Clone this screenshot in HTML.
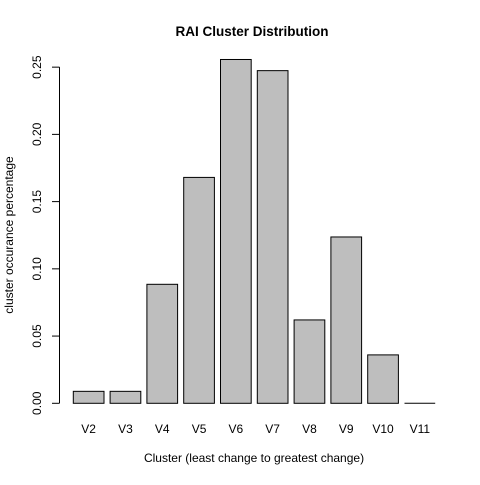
<!DOCTYPE html>
<html><head><meta charset="utf-8"><style>
body{margin:0;background:#fff}
svg text{font-family:"Liberation Sans",Arial,sans-serif;fill:#000}
</style></head><body>
<svg width="480" height="480" xmlns="http://www.w3.org/2000/svg">
<text x="252" y="36" text-anchor="middle" font-size="13.5" font-weight="bold">RAI Cluster Distribution</text>
<text x="254" y="462" text-anchor="middle" font-size="12">Cluster (least change to greatest change)</text>
<text transform="translate(13,235) rotate(-90)" text-anchor="middle" font-size="12">cluster occurance percentage</text>
<g id="yaxis"></g>
<g id="bars"></g>
<g id="xlabels"></g>
</svg>
<script>
const categories=["V2","V3","V4","V5","V6","V7","V8","V9","V10","V11"];
const values=[0.0089,0.0089,0.0885,0.168,0.2557,0.2474,0.062,0.1237,0.036,0];
const yTicks=[0,0.05,0.10,0.15,0.20,0.25];
const yTickLabels=["0.00","0.05","0.10","0.15","0.20","0.25"];
const NS="http://www.w3.org/2000/svg";
const y0=403.3, scale=1344.6;
function yPos(v){return y0-v*scale;}
function xLeft(i){return 73.3+i*36.8;}
const bw=30.7;
const ya=document.getElementById('yaxis');
let ax=document.createElementNS(NS,'line');
ax.setAttribute('x1',59.5);ax.setAttribute('x2',59.5);
ax.setAttribute('y1',yPos(yTicks[0]));ax.setAttribute('y2',yPos(yTicks[yTicks.length-1]));
ax.setAttribute('stroke','#000');


ya.appendChild(ax);
yTicks.forEach((t,i)=>{
 const y=yPos(t);
 const l=document.createElementNS(NS,'line');
 l.setAttribute('x1',52);l.setAttribute('x2',59.5);l.setAttribute('y1',y);l.setAttribute('y2',y);
 l.setAttribute('stroke','#000');
 
 
 ya.appendChild(l);
 const tx=document.createElementNS(NS,'text');
 tx.setAttribute('transform',`translate(41,${y}) rotate(-90)`);
 tx.setAttribute('text-anchor','middle');tx.setAttribute('font-size','12');
 tx.textContent=yTickLabels[i];
 
 
 ya.appendChild(tx);
});
const bg=document.getElementById('bars'), xl=document.getElementById('xlabels');
categories.forEach((c,i)=>{
 const x=xLeft(i), top=yPos(values[i]);
 let r;
 if(y0-top<0.5){
  r=document.createElementNS(NS,'line');
  r.setAttribute('x1',x);r.setAttribute('x2',x+bw);r.setAttribute('y1',y0);r.setAttribute('y2',y0);
  r.setAttribute('stroke','#000');
 } else {
  r=document.createElementNS(NS,'rect');
  r.setAttribute('x',x);r.setAttribute('y',top);r.setAttribute('width',bw);r.setAttribute('height',y0-top);
  r.setAttribute('fill','#bebebe');r.setAttribute('stroke','#000');r.setAttribute('stroke-width','1');
 }
 
 
 bg.appendChild(r);
 const t=document.createElementNS(NS,'text');
 t.setAttribute('x',x+bw/2);t.setAttribute('y',433);t.setAttribute('text-anchor','middle');t.setAttribute('font-size','12');
 t.textContent=c;
 
 
 xl.appendChild(t);
});
</script>
</body></html>
